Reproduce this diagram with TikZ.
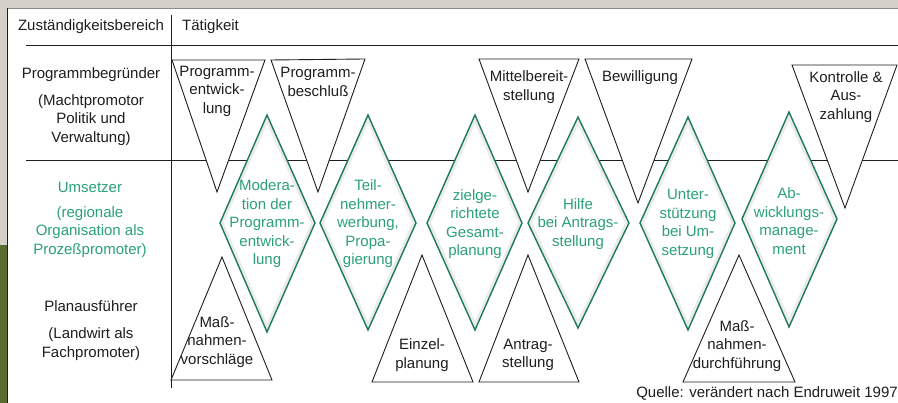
\documentclass[tikz,border=0pt]{standalone}
\usepackage{fontspec}
\setmainfont{Liberation Sans}
\definecolor{ink}{HTML}{1E1E1E}
\definecolor{gtext}{HTML}{2AA177}
\definecolor{gline}{HTML}{1D7C58}
\definecolor{beige}{HTML}{D5D1C8}
\definecolor{olive}{HTML}{5B6A30}
\newcommand\gdiamond[4]{%
  \fill[white] #1 -- #2 -- #3 -- #4 -- cycle;
  \begin{scope}\clip #1 -- #2 -- #3 -- #4 -- cycle;
  \draw[line width=7pt, black!8] #1 -- #2 -- #3 -- #4 -- cycle;\end{scope}
  \draw[dia] #1 -- #2 -- #3 -- #4 -- cycle;}
\begin{document}
\begin{tikzpicture}[x=1pt,y=-1pt,
  txt/.style={align=center, inner sep=0pt, font=\fontsize{15}{18.5}\selectfont, text=ink},
  gtxt/.style={txt, text=gtext},
  tri/.style={draw=ink, fill=white, line width=0.9pt, line join=miter},
  dia/.style={draw=gline, line width=1.4pt, line join=miter},
  rule/.style={draw=ink, line width=1pt}]
\useasboundingbox (0,0) rectangle (898,403);
% background
\fill[beige] (0,0) rectangle (898,8);
\fill[beige] (0,0) rectangle (7,403);
\fill[olive] (0,245) rectangle (7,403);
\fill[white] (7,8) rectangle (898,403);
\draw[ink, line width=1.4pt] (7.7,403) -- (7.7,8.5);
\draw[black!45, line width=0.8pt] (7.7,8.5) -- (898,8.5);
% rules
\draw[rule] (171,15) -- (171,388);
\draw[rule] (26,46) -- (898,46);
\draw[rule] (26,161) -- (898,161);
% inverted triangles
\draw[tri] (172,60) -- (265,60) -- (217,192) -- cycle;
\draw[tri] (271,60) -- (365,59) -- (318,192) -- cycle;
\draw[tri] (479,59) -- (579,59) -- (528,192) -- cycle;
\draw[tri] (585,59) -- (692,59) -- (638,203) -- cycle;
\draw[tri] (792,65) -- (897,65) -- (845,208) -- cycle;
% diamonds
\gdiamond{(267,115)}{(315,223)}{(267,332)}{(220,223)}
\gdiamond{(368,115)}{(416,223)}{(368,330)}{(320,223)}
\gdiamond{(475,115)}{(522,223)}{(475,330)}{(427,223)}
\gdiamond{(578,117)}{(629,223)}{(578,328)}{(528,223)}
\gdiamond{(688,117)}{(735,223)}{(688,330)}{(640,223)}
\gdiamond{(789,112)}{(837,219)}{(789,327)}{(742,219)}
% upright triangles
\draw[tri] (222,257) -- (272,380) -- (171,380) -- cycle;
\draw[tri] (422,255) -- (473,382) -- (372,382) -- cycle;
\draw[tri] (528,255) -- (579,382) -- (479,382) -- cycle;
\draw[tri] (739,255) -- (795,382) -- (683,382) -- cycle;
% header
\node[txt] (zb) at (91,27) {Zuständigkeitsbereich};
\node[txt, anchor=west] (tk) at (182,27) {Tätigkeit};
% left column
\node[txt] (pb) at (91,75) {Programmbegründer};
\node[txt] (pbsub) at (91,120) {(Machtpromotor\\Politik und\\Verwaltung)};
\node[gtxt] (us) at (90,187) {Umsetzer};
\node[gtxt] (ussub) at (90,232) {(regionale\\Organisation als\\Prozeßpromoter)};
\node[txt] (pa) at (91,306) {Planausführer};
\node[txt] (pasub) at (91,344) {(Landwirt als\\Fachpromoter)};
% inverted triangle texts
\node[txt] (t1) at (217,91) {Programm-\\entwick-\\lung};
\node[txt] (t2) at (318,82) {Programm-\\beschluß};
\node[txt] (t3) at (529,87) {Mittelbereit-\\stellung};
\node[txt] (t4) at (640,78) {Bewilligung};
\node[txt] (t5) at (846,97) {Kontrolle \&\\Aus-\\zahlung};
% diamond texts
\node[gtxt] (d1) at (267,224) {Modera-\\tion der\\Programm-\\entwick-\\lung};
\node[gtxt] (d2) at (368,224) {Teil-\\nehmer-\\werbung,\\Propa-\\gierung};
\node[gtxt] (d3) at (475,224) {zielge-\\richtete\\Gesamt-\\planung};
\node[gtxt] (d4) at (578,224) {Hilfe\\bei Antrags-\\stellung};
\node[gtxt] (d5) at (688,224) {Unter-\\stützung\\bei Um-\\setzung};
\node[gtxt] (d6) at (789,221) {Ab-\\wicklungs-\\manage-\\ment};
% upright triangle texts
\node[txt] (b1) at (217,342) {Maß-\\nahmen-\\vorschläge};
\node[txt] (b2) at (422,355) {Einzel-\\planung};
\node[txt] (b3) at (528,355) {Antrag-\\stellung};
\node[txt] (b4) at (737,346) {Maß-\\nahmen-\\durchführung};
% source
\node[txt, anchor=east] (src) at (898,393) {Quelle: verändert nach Endruweit 1997};
\end{tikzpicture}
\end{document}
